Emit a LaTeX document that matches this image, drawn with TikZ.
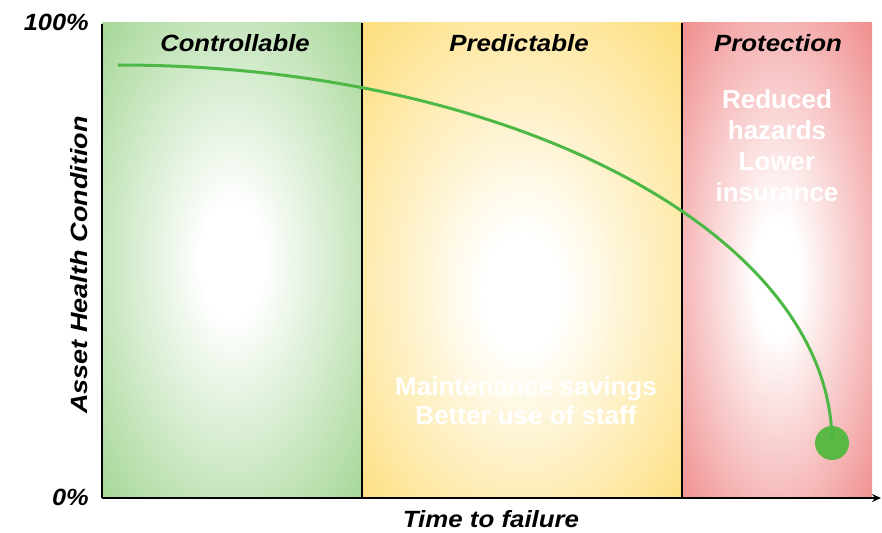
\documentclass[tikz,border=0pt]{standalone}
\usepackage{fontspec}
\usepackage{graphicx}
\setmainfont{Liberation Sans}
\usetikzlibrary{arrows.meta}
\definecolor{gpan}{HTML}{9ED38E}
\definecolor{ypan}{HTML}{FDDC74}
\definecolor{rpan}{HTML}{EF8585}
\definecolor{curvegreen}{HTML}{4DB845}
\definecolor{dotgreen}{HTML}{5CB844}
\pgfdeclareradialshading{gshade}{\pgfpoint{0bp}{0bp}}{color(0bp)=(white); color(6bp)=(white); color(38bp)=(gpan); color(50bp)=(gpan)}
\pgfdeclareradialshading{yshade}{\pgfpoint{0bp}{-4bp}}{color(0bp)=(white); color(6bp)=(white); color(38bp)=(ypan); color(50bp)=(ypan)}
\pgfdeclareradialshading{rshade}{\pgfpoint{0bp}{-2bp}}{color(0bp)=(white); color(6bp)=(white); color(38bp)=(rpan); color(50bp)=(rpan)}
\newcommand{\wideby}[2]{\scalebox{#1}[1]{#2}}
\tikzset{
  head/.style={font=\fontsize{23.5}{28}\selectfont\bfseries\itshape, text=black, inner sep=0pt},
  axlabel/.style={font=\fontsize{23.5}{28}\selectfont\bfseries\itshape, text=black, inner sep=0pt},
  benefit/.style={font=\fontsize{26}{31}\selectfont\bfseries, text=white, align=center, inner sep=0pt},
  benefittwo/.style={font=\fontsize{26}{29}\selectfont\bfseries, text=white, align=center, inner sep=0pt},
  axisline/.style={line width=2.4pt, black},
  sepline/.style={line width=1.3pt, black},
  curve/.style={line width=3pt, curvegreen},
}
\begin{document}
\begin{tikzpicture}[x=1pt,y=-1pt]
\useasboundingbox (0,0) rectangle (882,532);
% panels
\shade[shading=gshade] (102,23) rectangle (362,498);
\shade[shading=yshade] (362,23) rectangle (682,498);
\shade[shading=rshade] (682,23) rectangle (872,498);
% separators
\coordinate (s1t) at (362,23); \coordinate (s1b) at (362,498);
\coordinate (s2t) at (682,23); \coordinate (s2b) at (682,498);
\draw[sepline] (s1t) -- (s1b);
\draw[sepline] (s2t) -- (s2b);
% axes
\coordinate (origin) at (102,498);
\coordinate (ytop) at (102,24);
\coordinate (xend) at (881,498);
\draw[axisline] (ytop) -- (origin);
\draw[axisline, -{Stealth[length=9pt,width=8pt]}] (origin) -- (xend);
% headers
\node[head] (ctrl) at (235,43) {\wideby{1.09}{Controllable}};
\node[head] (pred) at (519,43) {\wideby{1.1}{Predictable}};
\node[head] (prot) at (778,43) {\wideby{1.1}{Protection}};
% benefit texts
\node[benefit] (red) at (777,146) {Reduced\\hazards\\Lower\\insurance};
\node[benefittwo] (maint) at (526,401) {Maintenance savings\\Better use of staff};
% axis labels
\node[axlabel, anchor=east] (p100) at (89,22) {\wideby{1.08}{100\%}};
\node[axlabel, anchor=east] (p0) at (89,497) {\wideby{1.08}{0\%}};
\node[axlabel] (xlab) at (491,519) {\wideby{1.1}{Time to failure}};
\node[axlabel, rotate=90] (ylab) at (79,265) {\wideby{1.15}{Asset Health Condition}};
% curve
\coordinate (cstart) at (118,65);
\node[circle, fill=dotgreen, minimum size=34pt, inner sep=0pt] (dot) at (832,443) {};
\draw[curve] (cstart) arc[start angle=90, end angle=0, x radius=714pt, y radius=378pt] -- (dot.center);
\end{tikzpicture}
\end{document}
